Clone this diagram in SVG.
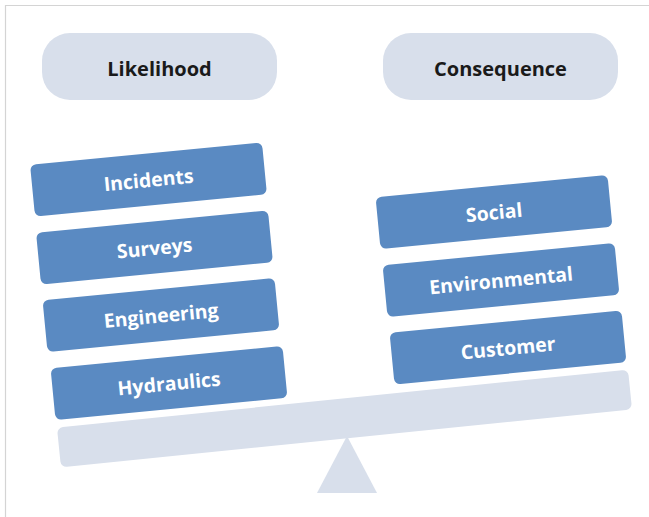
<svg xmlns="http://www.w3.org/2000/svg" width="649" height="517" viewBox="0 0 649 517">
  <style>
    .pill { fill: #d8dfeb; }
    .head { font-family: "Open Sans", "Noto Sans", sans-serif; font-weight: 700; font-size: 20px; fill: #1a1a1a; text-anchor: middle; dominant-baseline: central; }
    .box { fill: #5a8ac2; }
    .lbl { font-family: "Open Sans", "Noto Sans", sans-serif; font-weight: 700; font-size: 19.5px; fill: #ffffff; text-anchor: middle; dominant-baseline: central; }
    .scale { fill: #d8dfeb; }
    .frame { stroke: #d4d4d4; stroke-width: 1.2; fill: none; }
  </style>
  <defs>
    <rect id="card" x="-116.5" y="-26" width="233" height="52" rx="6"/>
  </defs>

  <rect width="649" height="517" fill="#ffffff"/>
  <path class="frame" d="M5.5,517 V5.5 H649"/>

  <!-- headers -->
  <g id="likelihood">
    <rect class="pill" x="42" y="33" width="235" height="67" rx="28"/>
    <text class="head" x="159.5" y="68">Likelihood</text>
  </g>
  <g id="consequence">
    <rect class="pill" x="383" y="33" width="235" height="67" rx="28"/>
    <text class="head" x="500.5" y="68">Consequence</text>
  </g>

  <!-- fulcrum and beam -->
  <g id="fulcrum">
    <polygon class="scale" points="347,436 317,493 377,493"/>
  </g>
  <g id="beam">
    <rect class="scale" x="-287" y="-20" width="574" height="40" rx="6" transform="translate(344.5 418.5) rotate(-5.8)"/>
  </g>

  <!-- likelihood cards -->
  <g id="incidents" transform="translate(148.5 179.5) rotate(-5.5)">
    <use href="#card" class="box"/>
    <text class="lbl" x="0" y="0">Incidents</text>
  </g>
  <g id="surveys" transform="translate(154.5 247.5) rotate(-5.5)">
    <use href="#card" class="box"/>
    <text class="lbl" x="0" y="0">Surveys</text>
  </g>
  <g id="engineering" transform="translate(161 315) rotate(-5.5)">
    <use href="#card" class="box"/>
    <text class="lbl" x="0" y="0">Engineering</text>
  </g>
  <g id="hydraulics" transform="translate(169 383) rotate(-5.5)">
    <use href="#card" class="box"/>
    <text class="lbl" x="0" y="0">Hydraulics</text>
  </g>

  <!-- consequence cards -->
  <g id="social" transform="translate(494 212) rotate(-5.5)">
    <use href="#card" class="box"/>
    <text class="lbl" x="0" y="0">Social</text>
  </g>
  <g id="environmental" transform="translate(501 280) rotate(-5.5)">
    <use href="#card" class="box"/>
    <text class="lbl" x="0" y="0">Environmental</text>
  </g>
  <g id="customer" transform="translate(508 347.5) rotate(-5.5)">
    <use href="#card" class="box"/>
    <text class="lbl" x="0" y="0">Customer</text>
  </g>
</svg>
